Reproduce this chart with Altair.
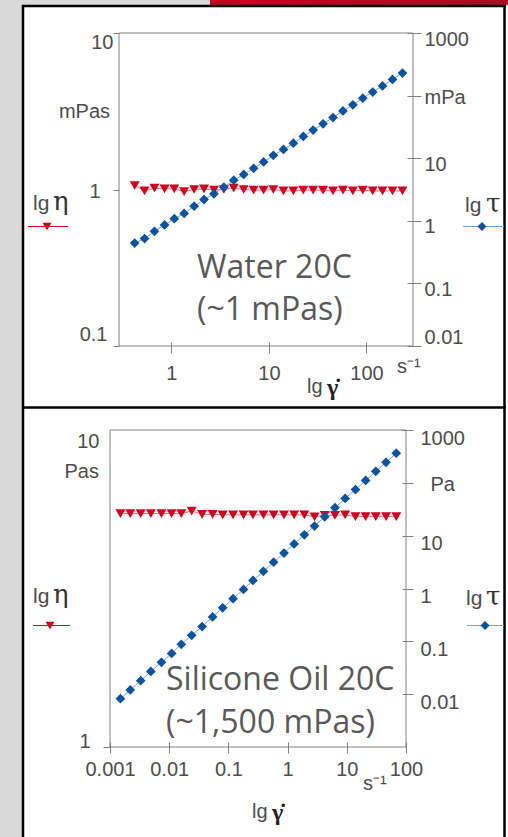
import altair as alt
import pandas as pd

# ---------------- data ----------------
# Water 20C
gamma_water = [0.42, 0.53, 0.67, 0.85, 1.07, 1.35, 1.71, 2.16, 2.73, 3.45, 4.36, 5.51, 6.97, 8.81,
               11.1, 14.1, 17.8, 22.5, 28.4, 35.9, 45.4, 57.4, 72.5, 91.7, 116, 146, 185, 234]
eta_water = [1.06, 0.98, 1.02, 1.01, 1.01, 0.97, 1.00, 1.01, 0.99, 1.00, 1.02, 1.00, 0.99, 0.99,
             1.00, 0.98, 0.98, 0.99, 0.99, 0.99, 0.98, 0.99, 0.98, 0.99, 0.98, 0.98, 0.98, 0.98]
tau_water = [0.44, 0.52, 0.68, 0.86, 1.08, 1.31, 1.71, 2.18, 2.70, 3.45, 4.45, 5.51, 6.90, 8.72,
             11.1, 13.8, 17.4, 22.3, 28.1, 35.5, 44.5, 56.8, 71.1, 90.8, 114, 143, 181, 229]

# Silicone oil 20C
gamma_oil = [0.0015, 0.0022, 0.0033, 0.0049, 0.0074, 0.011, 0.016, 0.024, 0.036, 0.054, 0.080, 0.12,
             0.18, 0.26, 0.39, 0.58, 0.87, 1.29, 1.92, 2.85, 4.24, 6.31, 9.39, 14.0, 20.8, 30.9, 46.0, 68.5]
eta_oil = [5.45, 5.45, 5.45, 5.45, 5.45, 5.45, 5.45, 5.55, 5.42, 5.42, 5.40, 5.40, 5.40, 5.40,
           5.40, 5.40, 5.40, 5.40, 5.40, 5.32, 5.38, 5.38, 5.40, 5.33, 5.33, 5.33, 5.33, 5.33]
tau_oil = [0.0082, 0.012, 0.018, 0.027, 0.040, 0.059, 0.088, 0.13, 0.19, 0.29, 0.43, 0.64, 0.96, 1.42,
           2.11, 3.14, 4.68, 6.97, 10.4, 15.2, 22.8, 33.9, 50.7, 74.6, 111, 165, 245, 365]

# tick values
water_rate_ticks = [1, 10, 100]
water_eta_ticks = [0.1, 1, 10]
water_tau_ticks = [0.01, 0.1, 1, 10, 100, 1000]
oil_rate_ticks = [0.001, 0.01, 0.1, 1, 10, 100]
oil_eta_ticks = [1, 10]
oil_tau_ticks = [0.01, 0.1, 1, 10, 100, 1000]

water = pd.DataFrame({"rate": gamma_water, "eta": eta_water, "tau": tau_water})
oil = pd.DataFrame({"rate": gamma_oil, "eta": eta_oil, "tau": tau_oil})

# ---------------- styles ----------------
FONT = "Liberation Sans"
SERIF = "DejaVu Serif"
AX = "#808080"
LBL = "#4d4d4d"
NOTE = "#595959"
RED = "#d2001e"
RED_L = "#e8707c"
BLUE = "#0b52a0"
BLUE_L = "#6fa3db"

one = alt.Data(values=[{"k": 0}])


def cond(pairs, default):
    return {"condition": [{"test": t, "value": v} for t, v in pairs], "value": default}


def rect(x, x2, y, y2, **kw):
    return alt.Chart(one).mark_rect(**kw).encode(
        x=alt.value(x), x2=alt.value(x2), y=alt.value(y), y2=alt.value(y2))


def hrule(x, x2, y, **kw):
    return alt.Chart(one).mark_rule(**kw).encode(x=alt.value(x), x2=alt.value(x2), y=alt.value(y))


def vrule(x, y, y2, **kw):
    return alt.Chart(one).mark_rule(**kw).encode(x=alt.value(x), y=alt.value(y), y2=alt.value(y2))


def txt(t, x, y, **kw):
    return alt.Chart(one).mark_text(text=t, **kw).encode(x=alt.value(x), y=alt.value(y))


def sym(shape, x, y, color, size):
    return alt.Chart(one).mark_point(shape=shape, filled=True, color=color, opacity=1, size=size,
                                     strokeWidth=0).encode(x=alt.value(x), y=alt.value(y))


base_axis = dict(domain=False, grid=False, tickColor=AX, tickWidth=1, labelFont=FONT,
                 labelFontSize=20, labelColor=LBL, title=None, zindex=1,
                 labelOverlap=False, labelFlush=False, format="~g")


def legend_items(y_text, y_line, lx1, lx2, ltri, rx1, rx2, rdia, lg_left, eta_x, lg_right, tau_x):
    return [
        txt("lg", lg_left, y_text, font=FONT, fontSize=21, color=LBL, align="left", baseline="alphabetic"),
        txt("η", eta_x, y_text, font=SERIF, fontSize=26, color="#333333", align="left", baseline="alphabetic"),
        hrule(lx1, lx2, y_line, color=RED, strokeWidth=1),
        sym("triangle-down", ltri, y_line, RED, 80),
        txt("lg", lg_right, y_text + 2, font=FONT, fontSize=21, color=LBL, align="left", baseline="alphabetic"),
        txt("τ", tau_x, y_text + 2, font=SERIF, fontSize=26, color="#333333", align="left", baseline="alphabetic"),
        hrule(rx1, rx2, y_line, color=BLUE_L, strokeWidth=1),
        sym("diamond", rdia, y_line, BLUE, 80),
    ]


def data_layers(df, xenc, eta_scale, eta_axis, tau_scale, tau_axis):
    ye = alt.Y("eta:Q", scale=eta_scale, axis=eta_axis)
    yt = alt.Y("tau:Q", scale=tau_scale, axis=tau_axis)
    eta_layer = alt.layer(
        alt.Chart(df).mark_line(color=RED_L, strokeWidth=1).encode(x=xenc, y=ye),
        alt.Chart(df).mark_point(shape="triangle-down", filled=True, color=RED, opacity=1,
                                 size=100, strokeWidth=0).encode(x=xenc, y=ye),
    )
    tau_layer = alt.layer(
        alt.Chart(df).mark_line(color=BLUE_L, strokeWidth=1).encode(x=xenc, y=yt),
        alt.Chart(df).mark_point(shape="diamond", filled=True, color=BLUE, opacity=1,
                                 size=95, strokeWidth=0).encode(x=xenc, y=yt),
    )
    return eta_layer, tau_layer


# ---------------- top panel (water) : plot origin at (110, 33) ----------------
W1, H1 = 303, 313
x_water = alt.X("rate:Q",
                scale=alt.Scale(type="log", domain=[0.29, 300], range=[9, 303], nice=False),
                axis=alt.Axis(values=water_rate_ticks, orient="bottom", offset=-4, tickSize=11,
                              labelPadding=10, **base_axis))
eta_w, tau_w = data_layers(
    water, x_water,
    alt.Scale(type="log", domain=[0.1, 10], nice=False),
    alt.Axis(values=water_eta_ticks, orient="left", offset=-9, tickSize=6,
             labelPadding=cond([("datum.value == 1", 13), ("datum.value == 0.1", 6)], 0),
             labelOffset=cond([("datum.value == 10", 9), ("datum.value == 0.1", -12)], 2),
             **base_axis),
    alt.Scale(type="log", domain=[0.01, 1000], nice=False),
    alt.Axis(values=water_tau_ticks, orient="right", offset=-6, tickSize=14, labelPadding=3,
             labelExpr="datum.value == 100 ? 'mPa' : datum.label",
             labelOffset=cond([("datum.value == 100", 2), ("datum.value == 0.01", -9)], 6),
             **base_axis),
)

red_band = alt.LinearGradient(gradient="linear", x1=0, x2=1, y1=0, y2=0,
                              stops=[alt.GradientStop(color="#cc0020", offset=0),
                                     alt.GradientStop(color="#a3101e", offset=1)])

top_layers = [
    rect(-110, 398, -33, 804, color="#d9d9d9"),
    rect(100, 398, -33, -28, color=red_band),
    rect(-87, 398, -28, 804, color="#ffffff"),
    vrule(-87, -28, 804, color="#000000", strokeWidth=2.5),
    vrule(394.5, -28, 804, color="#000000", strokeWidth=2.5),
    hrule(-88, 396, -27, color="#000000", strokeWidth=2.5),
    hrule(-88, 396, 374.5, color="#000000", strokeWidth=2.5),
    rect(9, 303, 0, H1, fill="transparent", stroke=AX, strokeWidth=1),
    eta_w, tau_w,
    alt.Chart(one).mark_text(text=["Water 20C", "(~1 mPas)"], font="Open Sans", fontSize=32,
                             lineHeight=42, color=NOTE, align="left", baseline="alphabetic"
                             ).encode(x=alt.value(87), y=alt.value(245)),
    txt("mPas", 0, 79, font=FONT, fontSize=20, color=LBL, align="right", baseline="middle"),
    txt("s⁻¹", 287, 340, font=FONT, fontSize=20, color=LBL, align="left", baseline="alphabetic"),
    txt("lg", 197, 360, font=FONT, fontSize=20, color=LBL, align="left", baseline="alphabetic"),
    txt("γ̇", 217, 362, font="Liberation Serif", fontSize=24, fontWeight="bold", color="#222222",
        align="left", baseline="alphabetic"),
] + legend_items(177, 193.5, -82, -42, -63, 353, 394, 372, -77, -57, 355, 376)

top = alt.layer(*top_layers).resolve_scale(y="independent").properties(width=W1, height=H1)

# ---------------- bottom panel (silicone oil) : plot origin at (110, 430) ----------------
W2, H2 = 296, 317
x_oil = alt.X("rate:Q",
              scale=alt.Scale(type="log", domain=[0.001, 100], nice=False),
              axis=alt.Axis(values=oil_rate_ticks, orient="bottom", offset=-5, tickSize=11,
                            labelPadding=6, **base_axis))
eta_o, tau_o = data_layers(
    oil, x_oil,
    alt.Scale(type="log", domain=[1, 10], nice=False),
    alt.Axis(values=oil_eta_ticks, orient="left", offset=0, tickSize=7,
             labelPadding=cond([("datum.value == 1", 13)], 4),
             labelOffset=cond([("datum.value == 10", 11)], -6),
             tickOpacity=cond([("datum.value == 10", 0)], 1),
             **base_axis),
    alt.Scale(type="log", domain=[0.001, 1000], nice=False),
    alt.Axis(values=oil_tau_ticks, orient="right", offset=-4, tickSize=11,
             labelPadding=cond([("datum.value == 100", 17)], 7),
             labelExpr="datum.value == 100 ? 'Pa' : datum.label",
             labelOffset=cond([("datum.value == 100", 2)], 8),
             **base_axis),
)

bottom_layers = [
    rect(0, W2, 0, H2, fill="transparent", stroke=AX, strokeWidth=1),
    eta_o, tau_o,
    alt.Chart(one).mark_text(text=["Silicone Oil 20C", "(~1,500 mPas)"], font="Open Sans", fontSize=32,
                             lineHeight=43, color=NOTE, align="left", baseline="alphabetic"
                             ).encode(x=alt.value(56), y=alt.value(260)),
    txt("Pas", -11, 42, font=FONT, fontSize=20, color=LBL, align="right", baseline="middle"),
    txt("s⁻¹", 253, 360, font=FONT, fontSize=20, color=LBL, align="left", baseline="alphabetic"),
    txt("lg", 142, 388, font=FONT, fontSize=20, color=LBL, align="left", baseline="alphabetic"),
    txt("γ̇", 162, 390, font="Liberation Serif", fontSize=24, fontWeight="bold", color="#222222",
        align="left", baseline="alphabetic"),
] + legend_items(173, 195.5, -77, -40, -60, 357, 394, 375, -77, -57, 356, 376)

bottom = alt.layer(*bottom_layers).resolve_scale(y="independent").properties(width=W2, height=H2)

chart = alt.vconcat(top, bottom, spacing=84, bounds="flush").properties(
    padding=0, autosize=alt.AutoSizeParams(type="pad")
).configure(background="#d9d9d9").configure_view(strokeWidth=0)

chart.save("out.html", embed_options={"renderer": "svg", "actions": False})
